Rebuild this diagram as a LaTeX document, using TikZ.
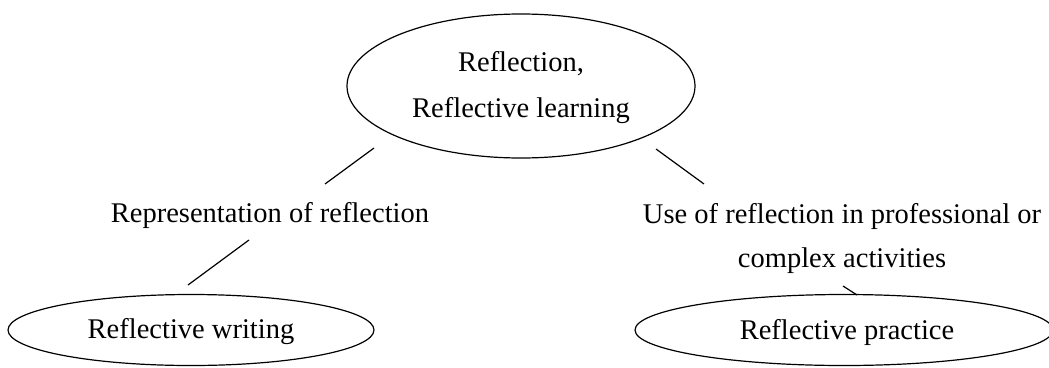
\documentclass[tikz,border=0pt]{standalone}
\usepackage{fontspec}
\setmainfont{Liberation Serif}
\usetikzlibrary{shapes.geometric}
\begin{document}
\begin{tikzpicture}[x=1pt,y=-1pt,
  oval/.style={draw,ellipse,line width=1.2pt,inner sep=0pt},
  lbl/.style={anchor=base,inner sep=0pt,font=\fontsize{28.5}{34}\selectfont},
  link/.style={line width=1.2pt}]
\useasboundingbox (0,0) rectangle (1049,367);
\begin{scope}
\clip (0,0) rectangle (1049,367);
% ellipses
\node[oval,minimum width=348pt,minimum height=144pt] (top) at (521,86) {};
\node[oval,minimum width=366pt,minimum height=71pt] (wr) at (191,330) {};
\node[oval,minimum width=418pt,minimum height=71pt] (pr) at (844,330) {};
% texts
\node[lbl] (t1) at (521,71) {Reflection,};
\node[lbl] (t2) at (521,117) {Reflective learning};
\node[lbl] (rep) at (270,222) {Representation of reflection};
\node[lbl] (use1) at (842,223) {Use of reflection in professional or};
\node[lbl] (use2) at (842,267) {complex activities};
\node[lbl] (wrt) at (191,338) {Reflective writing};
\node[lbl] (prt) at (847,339) {Reflective practice};
% connector ends
\coordinate (a1) at (374,148);
\coordinate (a2) at (325,184);
\coordinate (b1) at (656,149);
\coordinate (b2) at (704,184);
\coordinate (c1) at (249,240);
\coordinate (c2) at (188,285);
\coordinate (d1) at (843,286);
\coordinate (d2) at (857,295);
\draw[link] (a1) -- (a2);
\draw[link] (b1) -- (b2);
\draw[link] (c1) -- (c2);
\draw[link] (d1) -- (d2);
\end{scope}
\end{tikzpicture}
\end{document}
